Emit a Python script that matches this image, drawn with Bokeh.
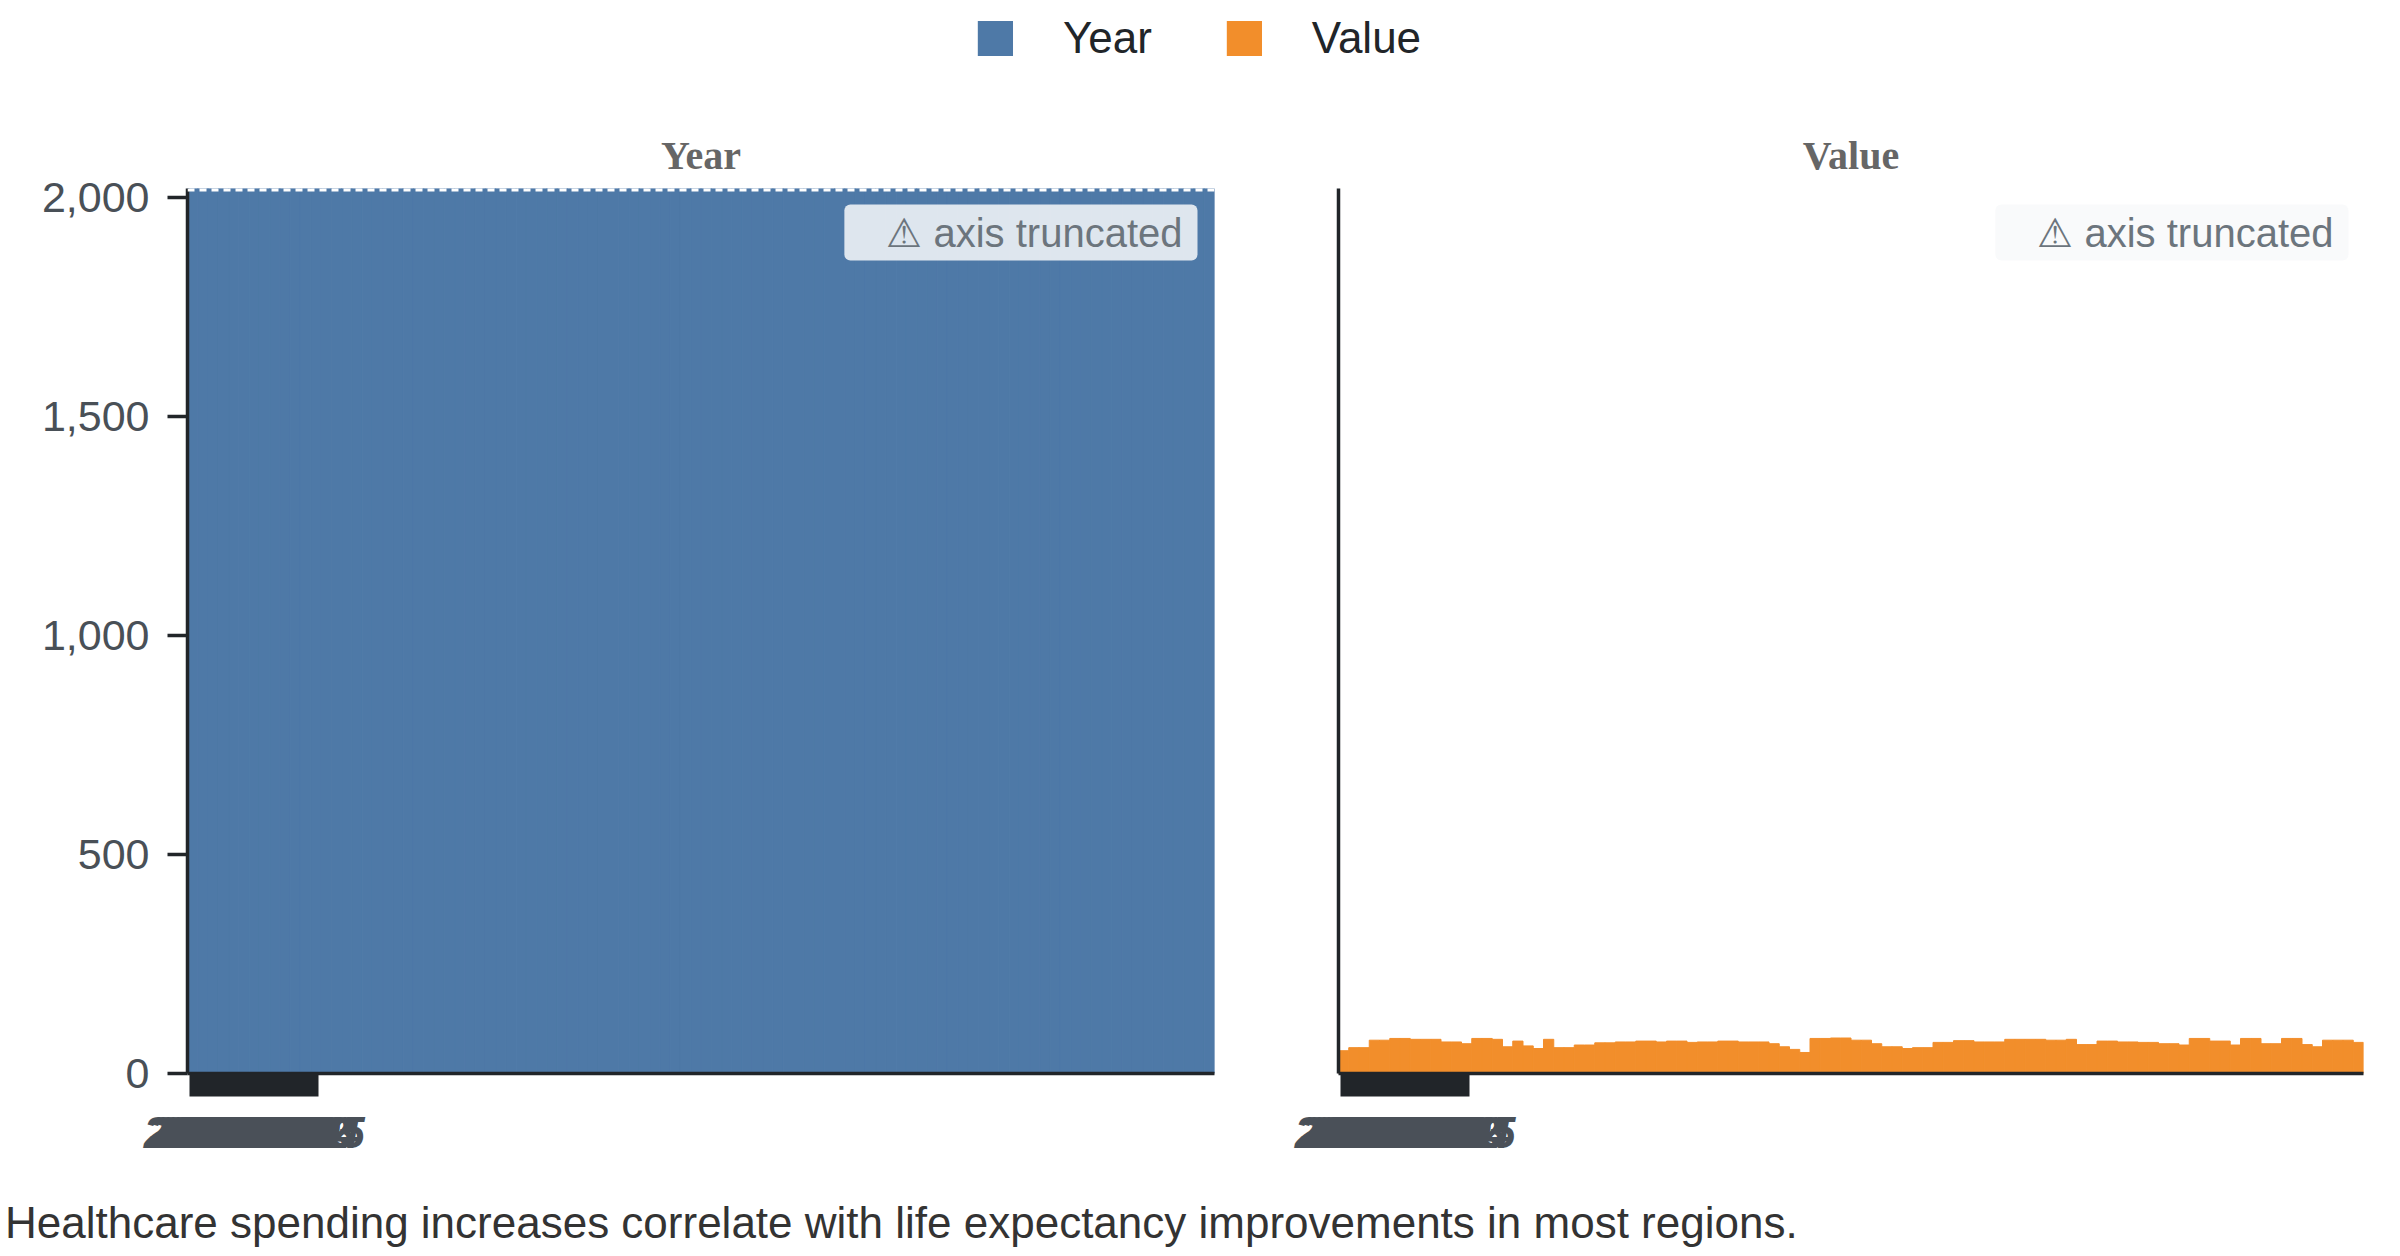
from bokeh.plotting import figure
from bokeh.models import (Range1d, FixedTicker, NumeralTickFormatter, Span, Label,
                          Legend, LegendItem, Div, ColumnDataSource)
from bokeh.layouts import column, row
from bokeh.embed import file_html
from bokeh.resources import INLINE

# ---------------- data ----------------
years = [2021, 2022, 2020, 2023, 2021, 2022, 2023, 2020, 2021, 2022,
         2023, 2020, 2021, 2022, 2023, 2021, 2020, 2022, 2023, 2021,
         2022, 2020, 2023, 2021, 2022, 2023, 2020, 2021, 2022, 2023,
         2021, 2020, 2022, 2023, 2021, 2022, 2020, 2023, 2021, 2022,
         2023, 2020, 2021, 2022, 2023, 2021, 2020, 2022, 2023, 2021,
         2022, 2020, 2023, 2021, 2022, 2023, 2020, 2021, 2022, 2023,
         2021, 2020, 2022, 2023, 2021, 2022, 2020, 2023, 2021, 2022,
         2023, 2020, 2021, 2022, 2023, 2021, 2020, 2022, 2023, 2021,
         2022, 2020, 2023, 2021, 2022, 2023, 2020, 2021, 2022, 2023,
         2021, 2020, 2022, 2023, 2021, 2022, 2020, 2023, 2021, 2022]
values = [52, 59, 59, 76, 76, 80, 80, 78, 78, 78,
          72, 72, 68, 80, 80, 78, 61, 74, 63, 57,
          78, 59, 59, 65, 65, 70, 70, 72, 72, 74,
          74, 72, 74, 74, 71, 72, 72, 74, 74, 72,
          72, 72, 68, 61, 55, 48, 80, 80, 81, 81,
          76, 76, 68, 61, 61, 57, 59, 59, 71, 71,
          75, 75, 72, 72, 72, 78, 78, 78, 78, 76,
          76, 78, 66, 66, 74, 74, 72, 72, 71, 71,
          68, 68, 65, 80, 80, 74, 74, 65, 80, 80,
          68, 68, 80, 80, 66, 61, 76, 76, 76, 71]
rows_idx = list(range(len(values)))
tick_labels = ["2000", "2001", "2002", "2003", "2004", "2005", "2006", "2007",
               "2008", "2009", "2010", "2011", "2012", "2013", "2014", "2015",
               "2016", "2017", "2018", "2019", "2020", "2021", "2022", "2023",
               "2024", "2025"]
y_ticks = [0, 500, 1000, 1500, 2000]
series_names = ["Year", "Value"]
colors = ["#4e79a7", "#f28e2b"]
caption = "Healthcare spending increases correlate with life expectancy improvements in most regions."

Y_END = 2020
X_START, X_END = -0.5, len(values) - 0.5
TICK_STEP = 0.48
tick_pos = [i * TICK_STEP for i in range(len(tick_labels))]

SANS = "Liberation Sans"
AXIS_COL = "#212529"
LABEL_COL = "#495057"
PANEL_H = 1118

src = ColumnDataSource(dict(x=rows_idx, year=years, value=values))


def panel(name, field, color, width, mb_left, mb_right, show_y_labels):
    p = figure(width=width, height=PANEL_H, output_backend="svg", toolbar_location=None,
               x_range=Range1d(X_START, X_END), y_range=Range1d(0, Y_END),
               min_border_left=mb_left, min_border_right=mb_right,
               min_border_top=112, min_border_bottom=121,
               background_fill_color="white", border_fill_color="white",
               outline_line_color=None)
    p.grid.visible = False
    p.vbar(x="x", top=field, width=1.0, bottom=0, source=src,
           fill_color=color, line_color=color, line_width=1)
    # title
    p.title.text = name
    p.title.align = "center"
    p.title.text_font = "Liberation Serif"
    p.title.text_font_style = "bold"
    p.title.text_font_size = "40px"
    p.title.text_color = "#666666"
    p.title.standoff = 21
    # y axis
    ya = p.yaxis[0]
    ya.axis_line_color = AXIS_COL
    ya.axis_line_width = 3.5
    ya.minor_tick_line_color = None
    if show_y_labels:
        ya.ticker = FixedTicker(ticks=y_ticks)
        ya.formatter = NumeralTickFormatter(format="0,0")
        ya.major_tick_out = 20
        ya.major_tick_in = 0
        ya.major_tick_line_width = 3.5
        ya.major_tick_line_color = AXIS_COL
        ya.major_label_text_font = SANS
        ya.major_label_text_font_size = "43px"
        ya.major_label_text_color = LABEL_COL
        ya.major_label_standoff = 18
    else:
        ya.ticker = FixedTicker(ticks=[])
        ya.major_tick_line_color = None
        ya.major_label_text_font_size = "0px"
    # x axis
    xa = p.xaxis[0]
    xa.axis_line_color = AXIS_COL
    xa.axis_line_width = 3.5
    xa.ticker = FixedTicker(ticks=tick_pos)
    xa.major_label_overrides = {t: lab for t, lab in zip(tick_pos, tick_labels)}
    xa.major_tick_out = 23
    xa.major_tick_in = 0
    xa.major_tick_line_width = 6
    xa.major_tick_line_color = AXIS_COL
    xa.minor_tick_line_color = None
    xa.major_label_text_font = SANS
    xa.major_label_text_font_style = "bold italic"
    xa.major_label_text_font_size = "44px"
    xa.major_label_text_color = "#4a5058"
    xa.major_label_standoff = 20
    return p


left = panel("Year", "year", colors[0], 1264, 187, 50, True)
right = panel("Value", "value", colors[1], 1109, 74, 10, False)

# truncation marker on the clipped bars
left.add_layout(Span(location=Y_END, dimension="width", line_color="white",
                     line_width=6, line_dash="7 5"))

for p, xoff in ((left, -17), (right, -15)):
    p.add_layout(Label(x=X_END, y=Y_END, x_offset=xoff, y_offset=-16,
                       text="\u26a0 axis truncated", anchor="top_right",
                       text_align="right", text_font=SANS, text_font_size="40px",
                       text_color="#6c757d", background_fill_color="#f8f9fa",
                       background_fill_alpha=0.85, border_radius=6,
                       padding=(42, 15, 6, 6)))

# legend figure
lg = figure(width=2380, height=76, output_backend="svg", toolbar_location=None,
            x_axis_location=None, y_axis_location=None, min_border=0,
            min_border_left=14,
            outline_line_color=None, x_range=Range1d(0, 1), y_range=Range1d(0, 1))
lg.grid.visible = False
items = []
for name, c in zip(series_names, colors):
    r = lg.vbar(x=[10], top=[10], bottom=[9], width=0.1, fill_color=c, line_color=None)
    items.append(LegendItem(label=name, renderers=[r]))
legend = Legend(items=items, orientation="horizontal", location="center",
                glyph_width=44, glyph_height=44, label_standoff=46, spacing=70,
                label_text_font=SANS, label_text_font_size="44px",
                label_text_color=AXIS_COL, border_line_color=None,
                background_fill_alpha=0, padding=0, margin=0)
lg.add_layout(legend, "center")

cap = Div(text=caption, width=2380, height=50,
          styles={"font-size": "44px", "color": "#333333",
                  "font-family": "'Liberation Sans', Arial, sans-serif",
                  "white-space": "nowrap", "line-height": "1.1"})

layout = column(lg, row(left, right), cap)
open("out.html", "w").write(file_html(layout, INLINE))
